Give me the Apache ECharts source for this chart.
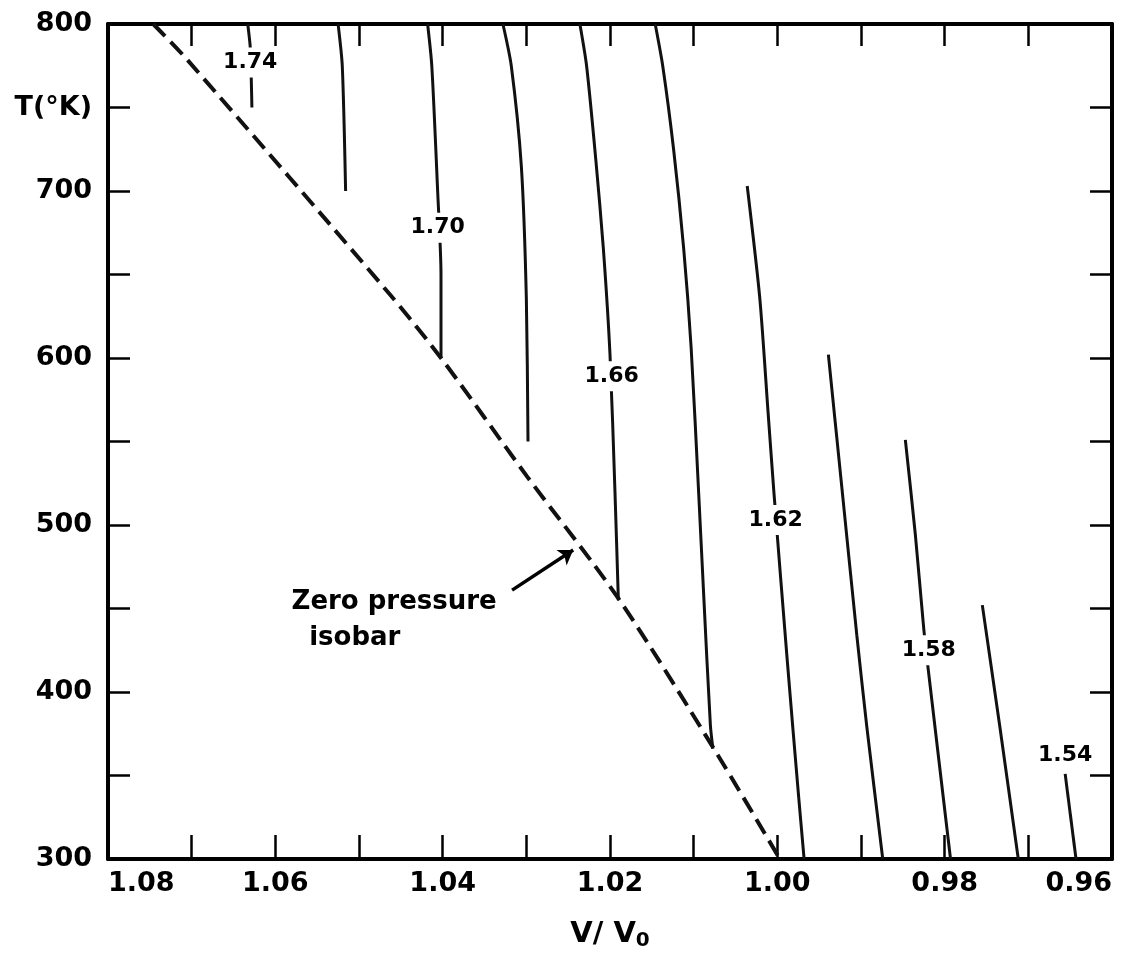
<!DOCTYPE html>
<html>
<head>
    <meta charset="UTF-8">
    <title>Isobars</title>
    <style>
        html, body {
            margin: 0;
            height: 100%;
            background-color: #FFF;
        }
    </style>
</head>
<body>
<div id="main" style="width:1146px;height:956px"></div>

<script src="https://cdn.jsdelivr.net/npm/echarts@6.0.0/dist/echarts.min.js"></script>
<script type="text/javascript">
    // tick labels
    var xTickLabels = ['1.08', '1.06', '1.04', '1.02', '1.00', '0.98', '0.96'];
    var yTickLabels = {300: '300', 400: '400', 500: '500', 600: '600', 700: '700', 750: 'T(°K)', 800: '800'};

    // isobars, [V/V0, T]
    var iso174 = [[1.0633, 800], [1.0630, 786], [1.0628, 750]];
    var iso172 = [[1.0525, 800], [1.0520, 775], [1.0516, 700]];
    var iso170 = [[1.0418, 800], [1.0413, 775], [1.0406, 700], [1.0402, 650], [1.0402, 600]];
    var iso168 = [[1.0328, 800], [1.0318, 775], [1.0306, 715], [1.0300, 636], [1.0298, 550]];
    var iso166 = [[1.0236, 800], [1.0228, 775], [1.0217, 719], [1.0208, 666], [1.0200, 602], [1.0194, 519], [1.0190, 455]];
    var iso164 = [[1.0146, 800], [1.0137, 775], [1.0124, 725], [1.0112, 666], [1.0103, 606], [1.0094, 519], [1.0088, 458], [1.0080, 380], [1.0077, 366]];
    var iso162 = [[1.0036, 703], [1.0021, 636], [1.0011, 567], [1.0004, 519], [0.9988, 418], [0.9975, 340], [0.9968, 300]];
    var iso160 = [[0.9939, 602], [0.9923, 523], [0.9905, 434], [0.9893, 379], [0.9874, 300]];
    var iso158 = [[0.9847, 551], [0.9835, 494], [0.9825, 438], [0.9820, 415], [0.9793, 300]];
    var iso156 = [[0.9755, 452], [0.9734, 379], [0.9712, 300]];
    var iso154 = [[0.9656, 351], [0.9643, 300]];

    // zero pressure isobar (dashed)
    var zeroPressure = [[1.0746, 800], [1.0706, 779], [1.0463, 638], [1.0402, 600], [1.0299, 529], [1.0190, 456], [1.0077, 367], [0.9997, 300]];

    // curve labels: text, V/V0, T
    var curveLabels = [
        ['1.74', 1.0630, 777],
        ['1.70', 1.0406, 678],
        ['1.66', 1.0198, 589],
        ['1.62', 1.0002, 503],
        ['1.58', 0.9819, 425],
        ['1.54', 0.9656, 362]
    ];

    // annotation
    var noteLines = [['Zero pressure', 1.0458, 454], ['isobar', 1.0505, 432]];
    var noteArrow = [[1.0317, 461], [1.0244, 485]];

    var isobars = [iso174, iso172, iso170, iso168, iso166, iso164, iso162, iso160, iso158, iso156, iso154];
    var fontFam = 'DejaVu Sans';

    var series = [];
    for (var i = 0; i < isobars.length; ++i) {
        series.push({
            type: 'line',
            data: isobars[i],
            showSymbol: false,
            smooth: 0.25,
            lineStyle: {color: '#111', width: 3},
            z: 2
        });
    }

    series.push({
        type: 'line',
        data: zeroPressure,
        showSymbol: false,
        smooth: 0.3,
        lineStyle: {color: '#111', width: 4, type: [17, 8]},
        z: 2
    });

    series.push({
        type: 'lines',
        coordinateSystem: 'cartesian2d',
        data: [{coords: noteArrow}],
        symbol: ['none', 'arrow'],
        symbolSize: 14,
        lineStyle: {color: '#000', width: 3.5, opacity: 1},
        z: 3
    });

    function textSeries(rows, size, bg) {
        return {
            type: 'scatter',
            symbolSize: 0,
            itemStyle: {color: '#000', opacity: 1},
            data: rows.map(function (d) {
                return {value: [d[1], d[2]], name: d[0]};
            }),
            label: {
                show: true,
                position: 'inside',
                formatter: '{b}',
                color: '#000',
                opacity: 1,
                textBorderWidth: 0,
                fontFamily: fontFam,
                fontWeight: 'bold',
                fontSize: size,
                backgroundColor: bg,
                padding: [4, 2]
            },
            z: 5
        };
    }

    series.push(textSeries(curveLabels, 22, '#FFF'));
    series.push(textSeries(noteLines, 26, 'transparent'));

    var labelStyle = {
        color: '#000',
        fontFamily: fontFam,
        fontWeight: 'bold',
        fontSize: 27
    };

    var mOptions = {
        animation: false,
        backgroundColor: '#FFF',
        grid: {left: 108, right: 34, top: 24, bottom: 90},
        xAxis: [{
            type: 'value',
            min: 0.96,
            max: 1.08,
            interval: 0.01,
            inverse: true,
            position: 'bottom',
            axisLine: {onZero: false, lineStyle: {color: '#000', width: 4}},
            axisTick: {inside: true, length: 24, lineStyle: {color: '#000', width: 2.5}},
            splitLine: {show: false},
            axisLabel: Object.assign({
                margin: 11,
                alignMinLabel: 'right',
                alignMaxLabel: 'left',
                formatter: function (v) {
                    var s = v.toFixed(2);
                    return xTickLabels.indexOf(s) >= 0 ? s : '';
                }
            }, labelStyle),
            name: '{a|V/ V}{b|0}',
            nameLocation: 'middle',
            nameGap: 58,
            nameTextStyle: {
                rich: {
                    a: {color: '#000', fontFamily: fontFam, fontWeight: 'bold', fontSize: 29},
                    b: {color: '#000', fontFamily: fontFam, fontWeight: 'bold', fontSize: 20, padding: [14, 0, 0, 0]}
                }
            }
        }, {
            type: 'value',
            min: 0.96,
            max: 1.08,
            interval: 0.01,
            inverse: true,
            position: 'top',
            axisLine: {onZero: false, lineStyle: {color: '#000', width: 4}},
            axisTick: {inside: true, length: 22, lineStyle: {color: '#000', width: 2.5}},
            splitLine: {show: false},
            axisLabel: {show: false}
        }],
        yAxis: [{
            type: 'value',
            min: 300,
            max: 800,
            interval: 50,
            position: 'left',
            axisLine: {onZero: false, lineStyle: {color: '#000', width: 4}},
            axisTick: {inside: true, length: 22, lineStyle: {color: '#000', width: 2.5}},
            splitLine: {show: false},
            axisLabel: Object.assign({
                margin: 16,
                formatter: function (v) {
                    return yTickLabels[Math.round(v)] || '';
                }
            }, labelStyle)
        }, {
            type: 'value',
            min: 300,
            max: 800,
            interval: 50,
            position: 'right',
            axisLine: {onZero: false, lineStyle: {color: '#000', width: 4}},
            axisTick: {inside: true, length: 22, lineStyle: {color: '#000', width: 2.5}},
            splitLine: {show: false},
            axisLabel: {show: false}
        }],
        series: series
    };

    var mCharts = echarts.init(document.getElementById('main'));
    mCharts.setOption(mOptions);
</script>
</body>
</html>
